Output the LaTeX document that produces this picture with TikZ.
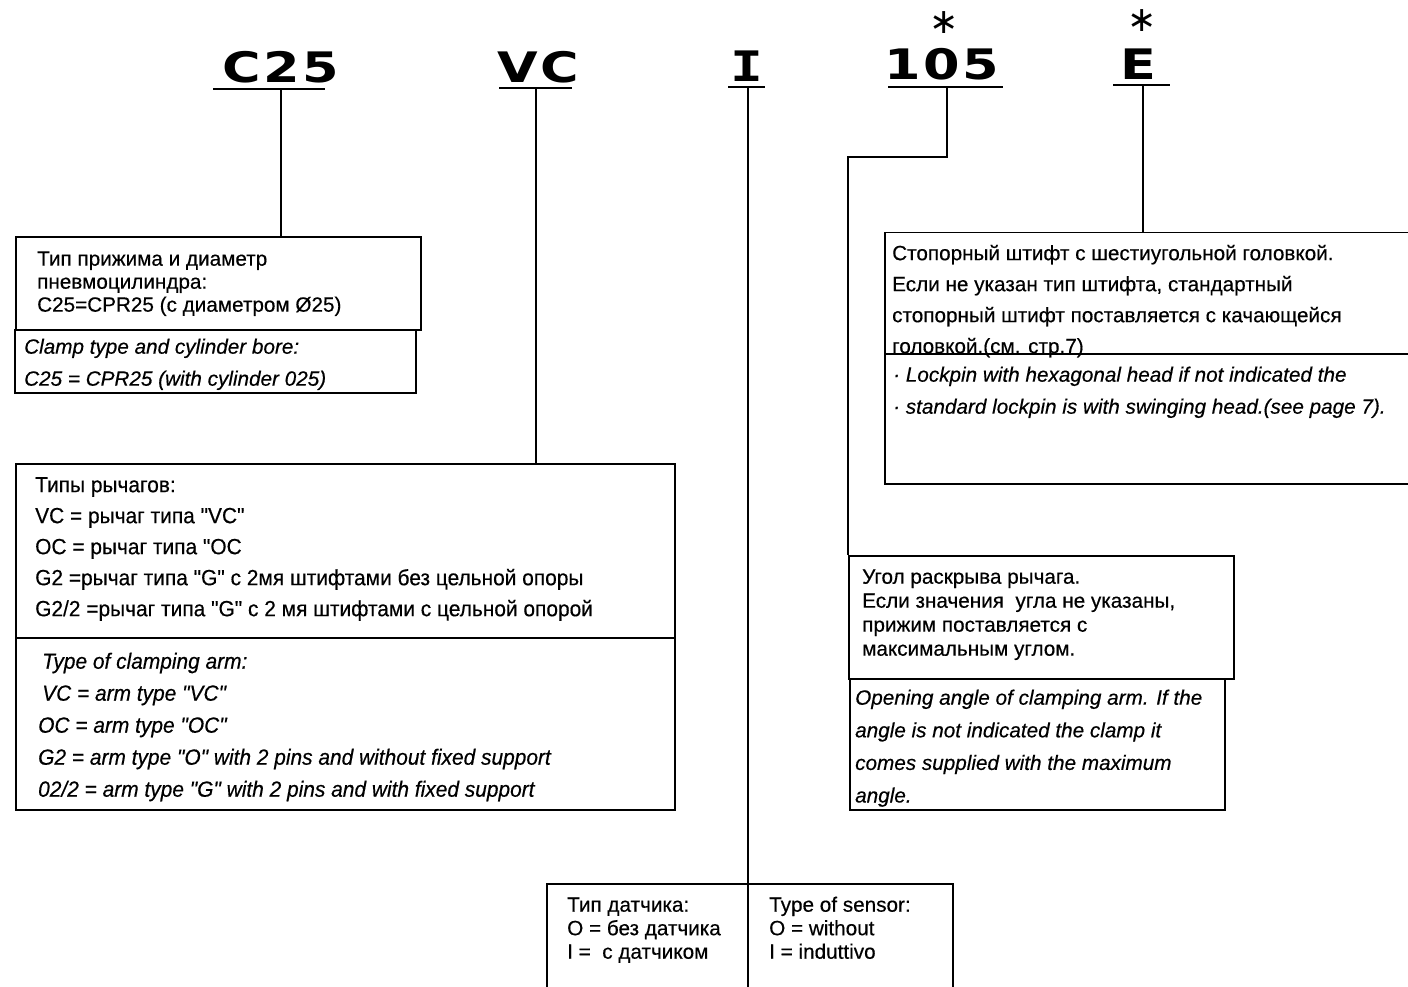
\documentclass[tikz,border=0pt]{standalone}
\usepackage{fontspec}
\setmainfont[FakeBold=0.4]{Liberation Sans}
\newfontfamily\narrowfont[FakeStretch=0.95,FakeBold=0.4]{Liberation Sans}
\newfontfamily\headfont[FakeStretch=1.25,LetterSpace=6]{DejaVu Sans Bold}
\newfontfamily\headmono[FakeStretch=1.3]{DejaVu Sans Mono Bold}
\newfontfamily\symfont{DejaVu Sans}
\newcommand\topstrut{\rule{0pt}{24pt}}
\begin{document}
\begin{tikzpicture}[x=1pt,y=-1pt,
  box/.style={draw, line width=1.5pt, inner sep=0pt, anchor=north west},
  txt/.style={anchor=north west, inner sep=0pt, align=left},
  code/.style={anchor=base west, inner sep=0pt, font=\headfont\fontsize{42}{44}\selectfont},
  uline/.style={line width=2pt},
  conn/.style={line width=1.3pt},
  star/.style={inner sep=0pt, font=\symfont\fontsize{35}{35}\selectfont}]
\clip (0,0) rectangle (1408,987);
% header codes
\node[code] (cC25) at (222,83) {C25};
\node[code] (cVC) at (497,83) {VC};
\node[code, anchor=base, font=\headmono\fontsize{42}{44}\selectfont] (cI) at (747,82) {I};
\node[code] (c105) at (884,80) {105};
\node[code] (cE) at (1120,80) {E};
\node[star] (s105) at (944,23) {∗};
\node[star] (sE) at (1142,21) {∗};
\draw[uline] (213,89) -- (325,89);
\draw[uline] (499,88) -- (572,88);
\draw[uline] (728,87) -- (765,87);
\draw[uline, line width=2.4pt] (888,87) -- (1003,87);
\draw[uline] (1113,85) -- (1170,85);
\coordinate (uC25) at (281,89);
\coordinate (uVC) at (536,88);
\coordinate (uI) at (748,87);
\coordinate (u105) at (947,87);
\coordinate (uE) at (1143,85);
% boxes
\node[box, minimum width=405pt, minimum height=93pt] (c25ru) at (15,236) {};
\node[box, minimum width=401pt, minimum height=63pt] (c25en) at (14,329) {};
\node[box, minimum width=659pt, minimum height=174pt] (vcru) at (15,463) {};
\node[box, minimum width=659pt, minimum height=172pt] (vcen) at (15,637) {};
\node[box, minimum width=540pt, minimum height=121pt] (eru) at (884,232) {};
\node[box, minimum width=540pt, minimum height=130pt] (een) at (884,353) {};
\node[box, minimum width=385pt, minimum height=123pt] (r105) at (848,555) {};
\node[box, minimum width=375pt, minimum height=131pt] (e105) at (849,678) {};
\node[box, minimum width=406pt, minimum height=115pt] (ibox) at (546,883) {};
% connectors
\draw[conn] (uC25) -- (uC25 |- c25ru.north);
\draw[conn] (uVC) -- (uVC |- vcru.north);
\draw[conn] (uI) -- (uI |- ibox.north);
\draw[conn] (uI |- ibox.north) -- (uI |- ibox.south);
\draw[conn] (u105) -- ++(0,70) -| (r105.north west);
\draw[conn] (uE) -- (uE |- eru.north);
% texts
\node[txt, font=\fontsize{20.7}{23}\selectfont] (t25ru) at (37,241.5)
  {\topstrut Тип прижима и диаметр\\пневмоцилиндра:\\C25=CPR25 (с диаметром Ø25)};
\node[txt, font=\itshape\fontsize{20.7}{32}\selectfont] (t25en) at (24,329.5)
  {\topstrut Clamp type and cylinder bore:\\C25 = CPR25 (with cylinder 025)};
\node[txt, font=\narrowfont\fontsize{22}{31}\selectfont] (tvcru) at (35,468)
  {\topstrut Типы рычагов:\\VC = рычаг типа "VC"\\OC = рычаг типа "OC\\G2 =рычаг типа "G" с 2мя штифтами без цельной опоры\\G2/2 =рычаг типа "G" с 2 мя штифтами с цельной опорой};
\node[txt, font=\narrowfont\itshape\fontsize{22}{32}\selectfont] (tvcen) at (38,644.5)
  {\topstrut\hspace*{4pt}Type of clamping arm:\\\hspace*{4pt}VC = arm type "VC"\\OC = arm type "OC"\\G2 = arm type "O" with 2 pins and without fixed support\\02/2 = arm type "G" with 2 pins and with fixed support};
\node[txt, font=\fontsize{20.7}{31}\selectfont] (teru) at (892,236)
  {\topstrut Стопорный штифт с шестиугольной головкой.\\Если не указан тип штифта, стандартный\\стопорный штифт поставляется с качающейся\\головкой.(см. стр.7)};
\node[txt, font=\itshape\fontsize{20.7}{32}\selectfont] (teen) at (893,357.5)
  {\topstrut· Lockpin with hexagonal head if not indicated the\\· standard lockpin is with swinging head.(see page 7).};
\node[txt, font=\fontsize{20.7}{24}\selectfont] (tr105) at (862,559.5)
  {\topstrut Угол раскрыва рычага.\\Если значения\ \ угла не указаны,\\прижим поставляется с\\максимальным углом.};
\node[txt, font=\itshape\fontsize{20.7}{32.6}\selectfont] (te105) at (855,680.5)
  {\topstrut Opening angle of clamping arm. If the\\angle is not indicated the clamp it\\comes supplied with the maximum\\angle.};
\node[txt, font=\fontsize{20.7}{23.5}\selectfont] (tiru) at (567,887.5)
  {\topstrut Тип датчика:\\O = без датчика\\I =\ \ с датчиком};
\node[txt, font=\fontsize{20.7}{23.5}\selectfont] (tien) at (769,887.5)
  {\topstrut Type of sensor:\\O = without\\I = induttivo};
\end{tikzpicture}
\end{document}
